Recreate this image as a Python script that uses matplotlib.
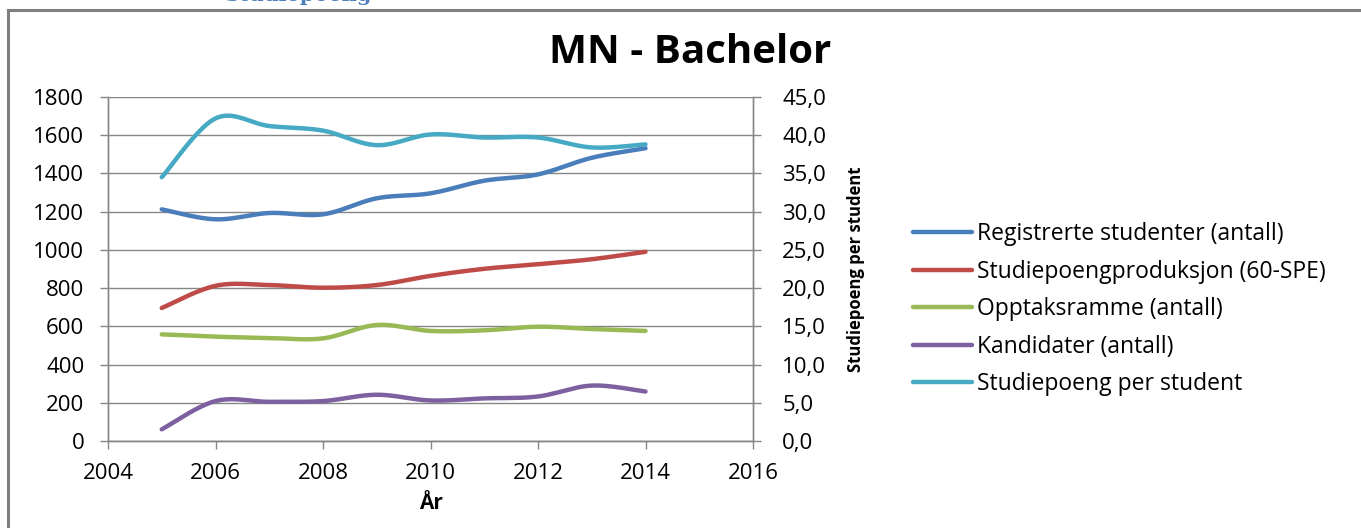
import numpy as np
import matplotlib

matplotlib.use('Agg')
import matplotlib.pyplot as plt
from matplotlib.patches import Rectangle
from matplotlib.ticker import FuncFormatter

plt.rcParams['font.family'] = ['Open Sans', 'DejaVu Sans']

years = [2005, 2006, 2007, 2008, 2009, 2010, 2011, 2012, 2013, 2014]
registrerte = [1212, 1160, 1193, 1186, 1270, 1296, 1362, 1395, 1482, 1532]
produksjon = [696, 812, 816, 802, 816, 864, 901, 925, 951, 990]
opptak = [558, 546, 539, 537, 607, 576, 579, 598, 586, 576]
kandidater = [61, 209, 205, 209, 242, 212, 223, 233, 290, 259]
sp_per_student = [34.5, 42.2, 41.2, 40.6, 38.7, 40.1, 39.7, 39.7, 38.4, 38.8]

labels = [
    'Registrerte studenter (antall)',
    'Studiepoengproduksjon (60-SPE)',
    'Opptaksramme (antall)',
    'Kandidater (antall)',
    'Studiepoeng per student',
]
colors = ['#4a7ebb', '#be4b48', '#98b954', '#7d60a0', '#46aac5']
GRID = '#868686'


def smooth(xs, ys, n=24):
    # Excel style smoothed line: cubic bezier through the points
    pts = np.column_stack([xs, ys]).astype(float)
    out = []
    for i in range(len(pts) - 1):
        p0 = pts[i - 1] if i > 0 else pts[i]
        p1, p2 = pts[i], pts[i + 1]
        p3 = pts[i + 2] if i + 2 < len(pts) else pts[i + 1]
        c1 = p1 + (p2 - p0) / 6
        c2 = p2 - (p3 - p1) / 6
        t = np.linspace(0, 1, n)[:, None]
        seg = ((1 - t) ** 3) * p1 + 3 * ((1 - t) ** 2) * t * c1 + 3 * (1 - t) * t ** 2 * c2 + t ** 3 * p2
        out.append(seg if i == 0 else seg[1:])
    arr = np.vstack(out)
    return arr[:, 0], arr[:, 1]


fig = plt.figure(figsize=(13.61, 5.28), dpi=100)
fig.patch.set_facecolor('white')
W, H = 1361, 528

# outer chart frame and the cut-off heading above it
fig.patches.append(Rectangle((8 / W, -0.05), 1.1, 1 - 10 / H + 0.05, transform=fig.transFigure,
                             fill=False, edgecolor='#7f7f7f', linewidth=2.2))
fig.text(372 / W, 1 - 1 / H, 'Studiepoeng', color='#4f81bd', fontsize=15, fontweight='bold',
         family='DejaVu Serif', ha='right', va='baseline')

ax = fig.add_axes([108 / W, 1 - 441 / H, (753 - 108) / W, (441 - 97) / H])
ax2 = ax.twinx()

series = [registrerte, produksjon, opptak, kandidater]
handles = []
for vals, col, lab in zip(series, colors[:4], labels[:4]):
    sx, sy = smooth(years, vals)
    h, = ax.plot(sx, sy, color=col, linewidth=3.2, solid_capstyle='round', label=lab)
    handles.append(h)
sx, sy = smooth(years, sp_per_student)
h, = ax2.plot(sx, sy, color=colors[4], linewidth=3.2, solid_capstyle='round', label=labels[4])
handles.append(h)

ax.set_xlim(2004, 2016)
ax.set_ylim(0, 1800)
ax.set_xticks(range(2004, 2017, 2))
ax.set_yticks(range(0, 1801, 200))
ax2.set_ylim(0, 45)
ax2.set_yticks(np.arange(0, 45.1, 5))
ax2.yaxis.set_major_formatter(FuncFormatter(lambda v, p: f'{v:.1f}'.replace('.', ',')))

ax.grid(axis='y', color=GRID, linewidth=1)
ax.set_axisbelow(True)
for a in (ax, ax2):
    for s in a.spines.values():
        s.set_color(GRID)
        s.set_linewidth(1)
    a.spines['top'].set_visible(False)
    a.tick_params(colors=GRID, labelcolor='black', labelsize=16, length=6, width=1, pad=11)
ax.tick_params(axis='x', pad=10)
ax2.tick_params(axis='y', pad=15)

ax.set_xlabel('År', fontsize=15, fontweight='bold', labelpad=6)
ax2.set_ylabel('Studiepoeng per student', fontsize=12, fontweight='bold', labelpad=15)

fig.suptitle('MN - Bachelor', x=690 / W, y=1 - 33 / H, fontsize=29, fontweight='bold', va='top')

fig.legend(handles, labels, loc='upper left', bbox_to_anchor=(904 / W, 1 - 213 / H),
           frameon=False, fontsize=16.5, handlelength=2.55, handletextpad=0.25, labelspacing=0.59,
           borderaxespad=0)

fig.savefig('out.png', dpi=100, facecolor='white')
